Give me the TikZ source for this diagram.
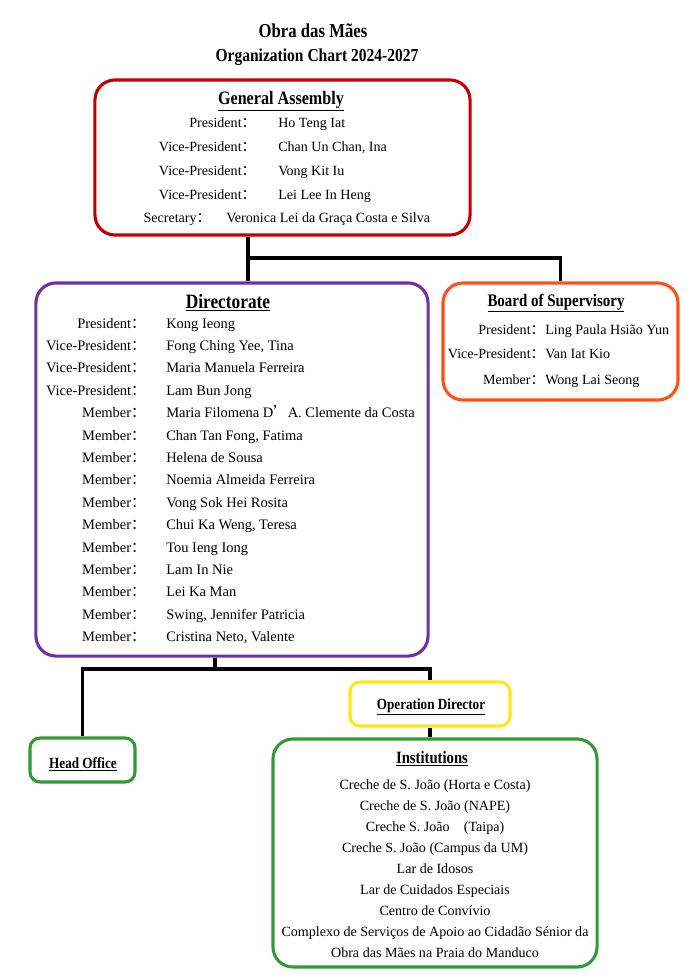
\documentclass[tikz,border=0pt]{standalone}
\usepackage{fontspec}
\setmainfont{Liberation Serif}
\newfontfamily\headfont{Liberation Serif}[FakeStretch=0.85]
\newfontfamily\cjk{Noto Sans CJK SC}
\newcommand\fwc{{\cjk ：}}
\definecolor{gared}{HTML}{C00000}
\definecolor{dirpurple}{HTML}{7030A0}
\definecolor{boardorange}{HTML}{FF5014}
\definecolor{odyellow}{HTML}{FFE51A}
\definecolor{officegreen}{HTML}{339933}

\begin{document}
\begin{tikzpicture}
    [x=0.025cm,y=-0.025cm,
    orgbox/.style={draw=#1,line width=2.2pt,rounded corners=0.5cm,inner sep=0},
    smallbox/.style={draw=#1,line width=2.2pt,rounded corners=0.25cm,inner sep=0},
    row/.style={inner sep=0,font=\fontsize{10}{12}\selectfont},
    dirrow/.style={inner sep=0,font=\fontsize{10.3}{12}\selectfont},
    heading/.style={inner sep=0,anchor=base,font=\headfont\bfseries\fontsize{#1}{#1}\selectfont},
    link/.style={line width=2.2pt,black}]

    \useasboundingbox (0,0) rectangle (693,980);

    % titles
    \node[heading=14,anchor=base] (title) at (313,37) {Obra das Mães};
    \node[heading=13,anchor=base] (subtitle) at (317,61) {Organization Chart 2024-2027};

    % boxes
    \node[orgbox=gared,minimum width=9.375cm,minimum height=3.875cm] (ga) at (282.5,157.5) {};
    \node[orgbox=dirpurple,minimum width=9.8cm,minimum height=9.325cm] (dir) at (232,469.5) {};
    \node[orgbox=boardorange,minimum width=5.875cm,minimum height=2.925cm] (board) at (560.5,341.5) {};
    \node[smallbox=odyellow,minimum width=4cm,minimum height=1.1cm] (od) at (430,704) {};
    \node[smallbox=officegreen,minimum width=2.625cm,minimum height=1.1cm] (head) at (82.5,760) {};
    \node[orgbox=officegreen,minimum width=8.1cm,minimum height=5.7cm] (inst) at (435,853) {};

    % General Assembly
    \node[heading=13.5] (gatitle) at (281,104) {\underline{General Assembly}};
    \foreach \lab/\val [count=\i] in {President/Ho Teng Iat,{Vice-President/Chan Un Chan, Ina},
        Vice-President/Vong Kit Iu,Vice-President/Lei Lee In Heng} {
      \node[row,anchor=base east] (gal\i) at (256,{127+(\i-1)*24}) {\lab\fwc};
      \node[row,anchor=base west] (gav\i) at (278,{127+(\i-1)*24}) {\val};
    }
    \node[row,anchor=base east] (gal5) at (211,222) {Secretary\fwc};
    \node[row,anchor=base west] (gav5) at (226,222) {Veronica Lei da Graça Costa e Silva};

    % Directorate
    \node[heading=14.5] (dirtitle) at (228,308) {\underline{Directorate}};
    \foreach \lab/\val [count=\i] in {President/Kong Ieong,{Vice-President/Fong Ching Yee, Tina},
        Vice-President/Maria Manuela Ferreira,Vice-President/Lam Bun Jong,
        Member/Maria Filomena D{\cjk ’}A. Clemente da Costa,{Member/Chan Tan Fong, Fatima},
        Member/Helena de Sousa,Member/Noemia Almeida Ferreira,Member/Vong Sok Hei Rosita,
        {Member/Chui Ka Weng, Teresa},Member/Tou Ieng Iong,Member/Lam In Nie,Member/Lei Ka Man,
        {Member/Swing, Jennifer Patricia},{Member/Cristina Neto, Valente}} {
      \node[dirrow,anchor=base east] (dl\i) at (146,{328+(\i-1)*22.4}) {\lab\fwc};
      \node[dirrow,anchor=base west] (dv\i) at (166,{328+(\i-1)*22.4}) {\val};
    }

    % Board of Supervisory
    \node[heading=12.5] (boardtitle) at (556,306) {\underline{Board of Supervisory}};
    \node[row,anchor=base east] (bl1) at (545,334) {President\fwc};
    \node[row,anchor=base west] (bv1) at (545,334) {Ling Paula Hsião Yun};
    \node[row,anchor=base east] (bl2) at (545,358) {Vice-President\fwc};
    \node[row,anchor=base west] (bv2) at (545,358) {Van Iat Kio};
    \node[row,anchor=base east] (bl3) at (545,384) {Member\fwc};
    \node[row,anchor=base west] (bv3) at (545,384) {Wong Lai Seong};

    % lower boxes
    \node[heading=11] (odtitle) at (431,709) {\underline{Operation Director}};
    \node[heading=11] (headtitle) at (83,768) {\underline{Head Office}};
    \node[heading=12.3] (insttitle) at (432,763) {\underline{Institutions}};
    \foreach \txt [count=\i] in {Creche de S. João (Horta e Costa),Creche de S. João (NAPE),
        Creche S. João\quad(Taipa),Creche S. João (Campus da UM),Lar de Idosos,
        Lar de Cuidados Especiais,Centro de Convívio,
        Complexo de Serviços de Apoio ao Cidadão Sénior da,Obra das Mães na Praia do Manduco} {
      \node[row,anchor=base] (inst\i) at (435,{789+(\i-1)*21}) {\txt};
    }

    % connectors
    \coordinate (gasplit) at (248,258);
    \draw[link] (ga.south -| gasplit) -- (gasplit) -| (board.north);
    \draw[link] (gasplit) -- (dir.north -| gasplit);
    \coordinate (dirsplit) at (215,669);
    \draw[link] (dir.south -| dirsplit) -- (dirsplit);
    \draw[link] (head.north) |- (dirsplit) -| (od.north);
    \draw[link] (od.south) -- (od.south |- inst.north);
\end{tikzpicture}
\end{document}
